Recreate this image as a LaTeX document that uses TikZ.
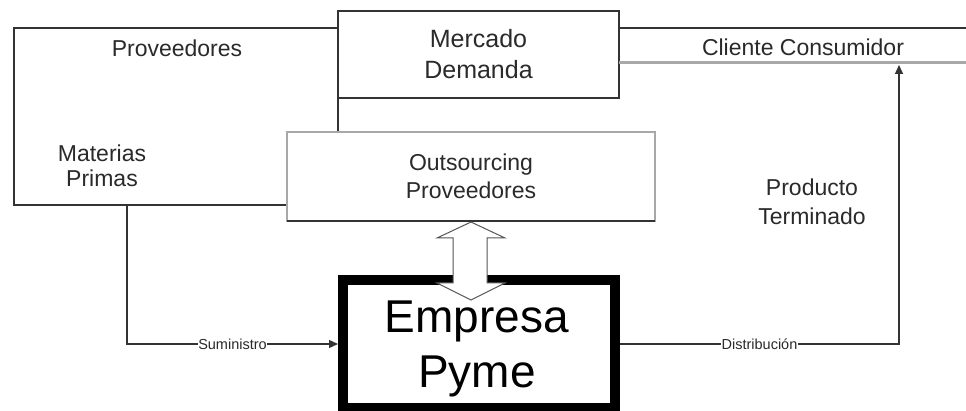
\documentclass[tikz,border=0pt]{standalone}
\usepackage{fontspec}
\setmainfont{Liberation Sans}
\usetikzlibrary{arrows.meta}
\definecolor{linec}{HTML}{333333}
\definecolor{txtc}{HTML}{2A2A2A}
\definecolor{softc}{HTML}{A8A8A8}
\definecolor{arrc}{HTML}{555555}
\begin{document}
\begin{tikzpicture}[x=1pt,y=-1pt,
  frame/.style={draw=linec, line width=1.6pt, fill=white, inner sep=0pt, outer sep=0pt, anchor=north west},
  lbl/.style={text=txtc, font=\fontsize{23}{28}\selectfont, align=center, inner sep=0pt},
  small/.style={font=\fontsize{14.5}{16}\selectfont, fill=white, inner sep=0.5pt, text=txtc},
  conn/.style={draw=linec, line width=1.4pt},
  tipend/.style={-{Triangle[length=9pt,width=8pt]}}
]
\useasboundingbox (0,0) rectangle (966,411);
\fill[white] (0,0) rectangle (966,411);

% Proveedores frame
\node[frame, minimum width=324pt, minimum height=177pt] (prov) at (14,28) {};
\node[lbl] (provt) at (177,48) {Proveedores};
\node[lbl, font=\fontsize{23}{25}\selectfont] (mp) at (102,166) {Materias\\Primas};

% Mercado Demanda
\node[frame, minimum width=281pt, minimum height=87pt, text=txtc, align=center,
      font=\fontsize{25}{31}\selectfont] (merc) at (338,11) {Mercado\\Demanda};

% Cliente Consumidor band
\coordinate (cliTopEnd) at (966,28);
\coordinate (cliBotStart) at (619,63);
\coordinate (cliBotEnd) at (966,63);
\draw[linec, line width=1.6pt] (merc.east |- prov.north) -- (cliTopEnd);
\draw[softc, line width=3pt] (cliBotStart) -- (cliBotEnd);
\node[lbl] (cli) at (803,47) {Cliente Consumidor};

% Outsourcing Proveedores
\node[frame, draw=softc, minimum width=368pt, minimum height=89pt, text=txtc, align=center,
      font=\fontsize{23}{28}\selectfont] (out) at (287,132) {Outsourcing\\Proveedores};
\draw[linec, line width=1.6pt] (out.south west) -- (out.south east);

% Producto Terminado
\node[lbl, font=\fontsize{23}{29}\selectfont] (pt) at (812,202) {Producto\\Terminado};

% Empresa Pyme
\node[draw=black, line width=10pt, fill=white, minimum width=272pt, minimum height=128pt,
      anchor=north west, inner sep=0pt] (emp) at (338,275) {};
\node[align=center, inner sep=0pt, text=black, font=\fontsize{46}{55}\selectfont]
      (empt) at (477,349) {Empresa\\Pyme};

% Block double arrow
\filldraw[fill=white, draw=arrc, line width=1pt]
  (471,222) -- (505,238) -- (487,238) -- (487,283) -- (505,283) -- (471,300)
  -- (437,283) -- (453,283) -- (453,238) -- (437,238) -- cycle;

% Connectors
\coordinate (mpOut) at (127,205);
\coordinate (cliIn) at (899,65);
\draw[conn, tipend] (mpOut) |- node[small, pos=0.75] {Suministro} (emp.west);
\draw[conn, tipend] (emp.east) -| node[small, pos=0.25] {Distribución} (cliIn);
\end{tikzpicture}
\end{document}
